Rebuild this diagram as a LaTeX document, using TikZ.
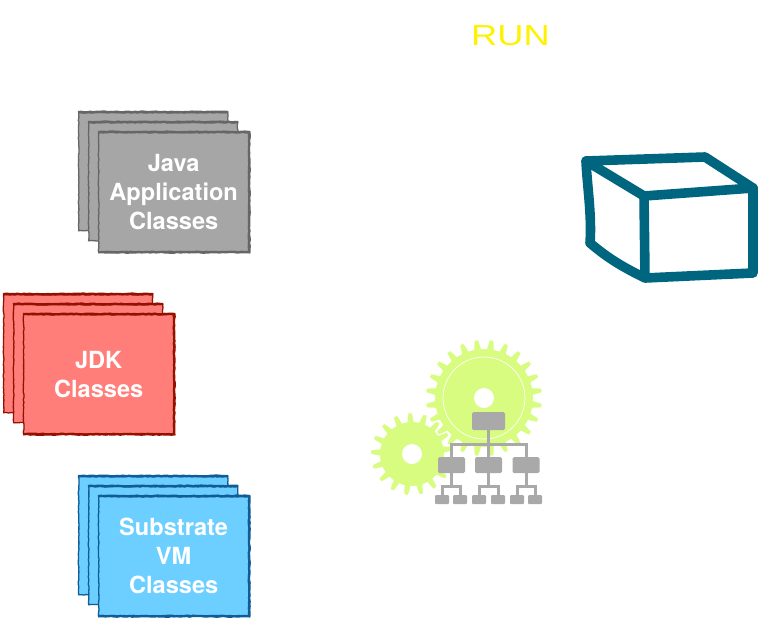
\documentclass[tikz,border=0pt]{standalone}
\usepackage{fontspec}
\setmainfont{TeX Gyre Heros}
\newfontfamily\runfont{Liberation Sans}
\usetikzlibrary{decorations.pathmorphing,calc}
\definecolor{grayfill}{HTML}{A6A6A6}
\definecolor{grayedge}{HTML}{666666}
\definecolor{redfill}{HTML}{FF7E79}
\definecolor{rededge}{HTML}{941100}
\definecolor{bluefill}{HTML}{6DCFFF}
\definecolor{blueedge}{HTML}{0F5C96}
\definecolor{cubecol}{HTML}{00667F}
\definecolor{gearcol}{HTML}{D8FC80}
\definecolor{orgcol}{HTML}{A9A9A9}
\definecolor{runcol}{HTML}{FFF200}
\tikzset{
  x=1pt,y=-1pt,
  sheet/.style={draw=#1,line width=1.3pt,decorate,decoration={random steps,segment length=2.5pt,amplitude=0.4pt},
    minimum width=149pt,minimum height=118pt,inner sep=0pt,anchor=north west},
  sheetlabel/.style={text=white,font=\fontsize{23.6}{29}\selectfont\bfseries,align=center},
  sketchedge/.style={line width=2.4pt,decorate,decoration={random steps,segment length=3pt,amplitude=0.4pt}},
  orgbox/.style={fill=orgcol,rounded corners=1.5pt,inner sep=0pt},
  orgline/.style={draw=orgcol,line width=3pt},
  cubeline/.style={draw=cubecol,line width=9.6pt,line cap=round,line join=round},
}
\pgfmathsetseed{7}
\newcommand{\sheetstack}[6]{% x,y,fill,edge,name,text
  \node[sheet=#4,fill=#3] (#5a) at (#1,#2) {};
  \draw[#4,sketchedge] (#5a.north west) -- (#5a.north east);
  \node[sheet=#4,fill=#3] (#5b) at (#1+10,#2+10) {};
  \draw[#4,sketchedge] (#5b.north west) -- (#5b.north east);
  \node[sheet=#4,fill=#3,minimum width=150pt,minimum height=119pt,sheetlabel] (#5c) at (#1+20,#2+20) {#6};
  \draw[#4,sketchedge]
    (#5c.north west) -- (#5c.north east) -- (#5c.south east) -- (#5c.south west);
}
\newcommand{\gearshape}[7]{% cx,cy,mean r,amp,teeth,name,tooth angle
  \fill[gearcol,draw=white,line width=1pt]
    plot[domain=0:360,samples=721,smooth,shift={(#1,#2)}] (\x:{#3+#4*max(-1,min(1,2.2*cos(#5*(\x-#7))-0.45))}) -- cycle;
  \coordinate (#6) at (#1,#2);
}
\begin{document}
\begin{tikzpicture}
\useasboundingbox (0,0) rectangle (759,619);
\node[text=runcol,font=\runfont\fontsize{29}{29}\selectfont] (run) at (510.5,36) {\scalebox{1.25}[1]{RUN}};

\sheetstack{78}{112}{grayfill}{grayedge}{java}{Java\\Application\\Classes}
\sheetstack{3}{294}{redfill}{rededge}{jdk}{JDK\\Classes}
\sheetstack{78}{476}{bluefill}{blueedge}{svm}{Substrate\\VM\\Classes}

% cube
\coordinate (ca) at (586,161);
\coordinate (cb) at (705,157);
\coordinate (cc) at (753,188);
\coordinate (cd) at (644,196);
\coordinate (ce) at (645,278);
\coordinate (cf) at (753,273);
\coordinate (cg) at (590,243);
\draw[cubeline] (ca) -- (cb) -- (cc) -- (cd) -- (ca);
\draw[cubeline] (cc) -- (cf) -- (ce) -- (cd);
\draw[cubeline] (ca) .. controls (587,185) and (592,215) .. (cg) .. controls (610,260) and (625,268) .. (ce);

% gears
\gearshape{484}{398}{54}{4.5}{24}{biggear}{82.5}
\draw[white,line width=0.7pt] (biggear) circle (41);
\fill[white] (biggear) circle (10);
\gearshape{412}{454}{37}{4.5}{17}{smallgear}{98}
\fill[white] (smallgear) circle (10);

% org chart
\node[orgbox,minimum width=33pt,minimum height=18pt] (root) at (488.5,421) {};
\foreach \n/\x in {c1/451.5,c2/488.5,c3/526}
  \node[orgbox,minimum width=27pt,minimum height=16pt] (\n) at (\x,465) {};
\foreach \n/\x in {g1/442,g2/460,g3/479,g4/498,g5/517,g6/535}
  \node[orgbox,minimum width=14pt,minimum height=9pt,rounded corners=1pt] (\n) at (\x,499.5) {};
\coordinate (bus) at (root.south |- 0,444);
\draw[orgline] (root.south) -- (c2.north);
\draw[orgline] (c1.north) |- (bus) -| (c3.north);
\foreach \p/\a/\b in {c1/g1/g2,c2/g3/g4,c3/g5/g6}{
  \coordinate (\p bus) at (\p.south |- 0,486);
  \draw[orgline] (\p.south) -- (\p bus);
  \draw[orgline] (\a.north) |- (\p bus) -| (\b.north);
}
\end{tikzpicture}
\end{document}
